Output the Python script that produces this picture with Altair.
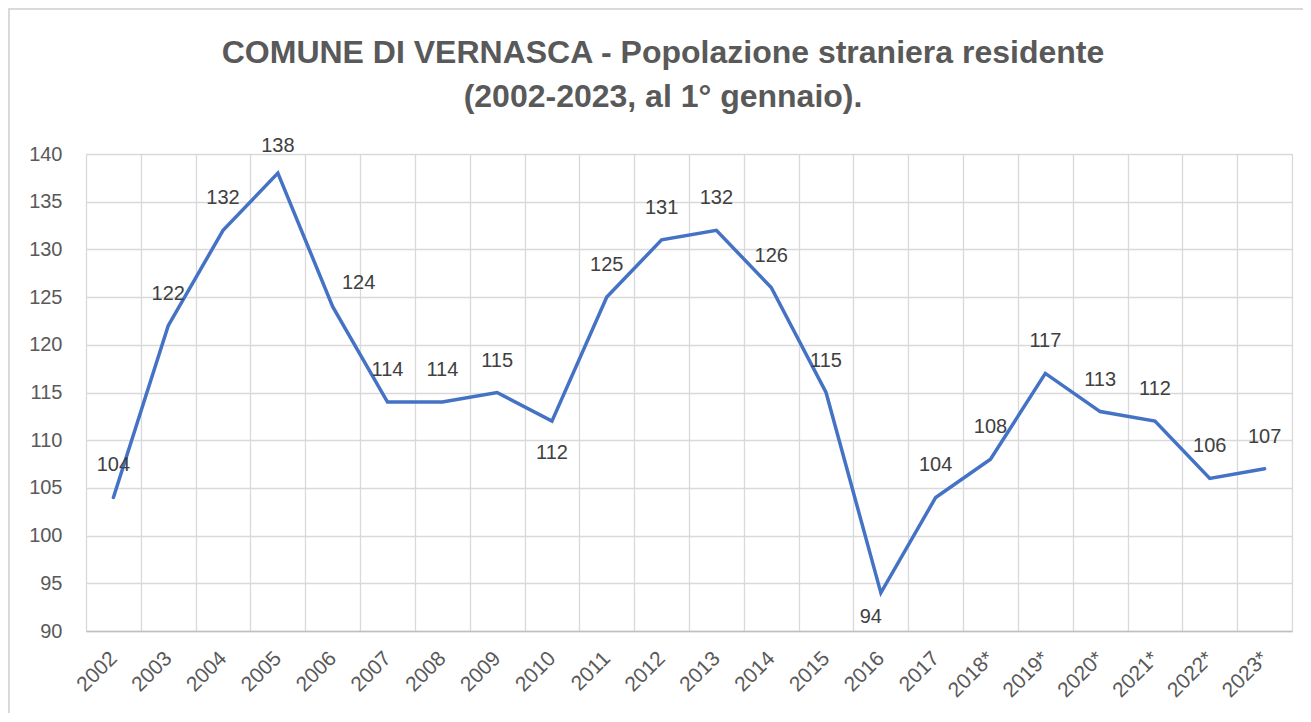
import altair as alt
import pandas as pd

years = ["2002", "2003", "2004", "2005", "2006", "2007", "2008", "2009", "2010", "2011",
         "2012", "2013", "2014", "2015", "2016", "2017", "2018*", "2019*", "2020*",
         "2021*", "2022*", "2023*"]
values = [104, 122, 132, 138, 124, 114, 114, 115, 112, 125, 131, 132, 126, 115, 94,
          104, 108, 117, 113, 112, 106, 107]
label_pos = ["above", "above", "above", "top", "right", "above", "above", "above", "below",
             "above", "above", "above", "above", "above", "belowleft", "above", "above",
             "above", "above", "above", "above", "above"]
y_ticks = [90, 95, 100, 105, 110, 115, 120, 125, 130, 135, 140]

offsets = {"above": (0, -32), "top": (0, -27), "right": (26, -24),
           "below": (0, 32), "belowleft": (-10, 24)}

df = pd.DataFrame({"year": years, "value": values, "pos": label_pos})

W, H = 1206, 477
PL, PT = 78, 146
FONT = "Liberation Sans"
GRID = "#d9d9d9"

x_enc = alt.X("year:N", sort=years, title=None,
              axis=alt.Axis(labelAngle=-45, labelAlign="right", labelBaseline="middle",
                            labelFontSize=21, labelColor="#595959", labelFont=FONT,
                            labelPadding=24, ticks=False, grid=True, tickBand="extent",
                            gridColor=GRID, gridWidth=1.3, domainColor="#bfbfbf",
                            domainWidth=1.3, labelOverlap=False),
              scale=alt.Scale(paddingInner=0, paddingOuter=0))
y_enc = alt.Y("value:Q", title=None,
              scale=alt.Scale(domain=[90, 140], nice=False, zero=False),
              axis=alt.Axis(values=y_ticks, labelFontSize=20, labelColor="#595959",
                            labelFont=FONT, labelPadding=24, ticks=False, domain=False,
                            gridColor=GRID, gridWidth=1.3))

base = alt.Chart(df)
line = base.mark_line(color="#4472C4", strokeWidth=3.5, strokeCap="round",
                      strokeJoin="miter").encode(x=x_enc, y=y_enc)

layers = [line]
for name, (dx, dy) in offsets.items():
    layers.append(
        base.transform_filter(alt.datum.pos == name)
        .mark_text(dx=dx, dy=dy, fontSize=20, font=FONT, color="#404040",
                   baseline="middle", align="center")
        .encode(x=alt.X("year:N", sort=years), y="value:Q", text="value:Q")
    )

# light chart-area frame (top and left edges visible in the reference)
frame_top = base.mark_rule(color=GRID, strokeWidth=2, clip=False).encode(
    x=alt.value(-77.5), x2=alt.value(W + 11), y=alt.value(-145.5))
frame_left = base.mark_rule(color=GRID, strokeWidth=2, clip=False).encode(
    x=alt.value(-77.5), y=alt.value(-145.5), y2=alt.value(H + 82))
layers += [frame_top, frame_left]

chart = alt.layer(*layers).properties(
    width=W, height=H,
    title=alt.Title(["COMUNE DI VERNASCA - Popolazione straniera residente",
                     "(2002-2023, al 1° gennaio)."],
                    font=FONT, fontSize=32, fontWeight="bold", color="#595959",
                    lineHeight=44, anchor="middle", frame="group", dx=-26, offset=-106.5),
    autosize=alt.AutoSizeParams(type="none"),
    padding={"left": PL, "top": PT, "right": 11, "bottom": 82},
).configure_view(stroke=GRID, strokeWidth=1.3).configure(background="white")

chart.save("out.html", embed_options={"renderer": "svg", "actions": False})
